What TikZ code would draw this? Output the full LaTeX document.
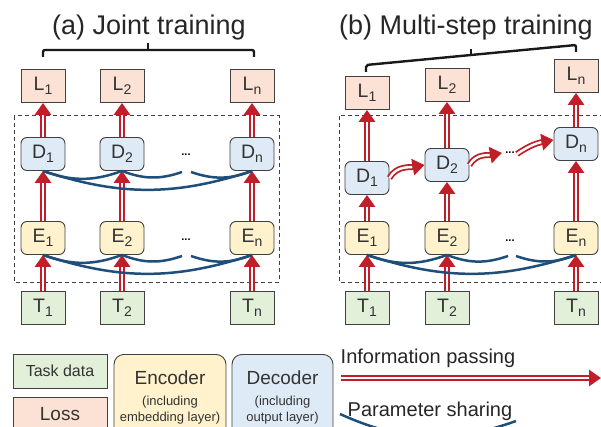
\documentclass[tikz,border=0pt]{standalone}
\usepackage{fontspec}
\setmainfont{Liberation Sans}
\usetikzlibrary{arrows.meta}
\definecolor{lossfill}{RGB}{251,226,213}
\definecolor{decfill}{RGB}{222,235,247}
\definecolor{encfill}{RGB}{255,242,204}
\definecolor{taskfill}{RGB}{226,240,217}
\definecolor{boxline}{RGB}{64,64,64}
\definecolor{infored}{RGB}{192,30,40}
\definecolor{shareblue}{RGB}{30,78,121}
\newcommand{\lbl}[2]{#1\raisebox{-3.5pt}{\fontsize{14}{14}\selectfont #2}}

\begin{document}
\begin{tikzpicture}[x=1pt, y=1pt,
    box/.style={draw=boxline, line width=0.9pt, minimum width=44pt, minimum height=33pt,
      inner sep=0pt, font=\fontsize{19.5}{19.5}\selectfont, text=black!80},
    loss/.style={box, fill=lossfill},
    task/.style={box, fill=taskfill},
    enc/.style={box, fill=encfill, rounded corners=6pt},
    dec/.style={box, fill=decfill, rounded corners=6pt},
    info/.style={draw=infored, line width=6pt, -{Triangle[width=16pt, length=12pt]},
      postaction={draw=white, line width=2.4pt, arrows=-, shorten >=12.5pt}},
    share/.style={draw=shareblue, line width=2.5pt},
    frame/.style={draw=black!75, dash pattern=on 4pt off 3pt, line width=1pt},
    brace/.style={draw=black!90, line width=2.4pt, rounded corners=2pt},
    dots/.style={font=\fontsize{11}{11}\selectfont\bfseries, inner sep=0pt},
    title/.style={font=\fontsize{27}{27}\selectfont, text=black!85, anchor=base}]
    \clip (0,0) rectangle (601,-427);

    % (a) joint training
    \node[title] (atitle) at (149,-35) {(a) Joint training};
    \draw[brace] (43,-57) -- (43,-50) -- (254,-50) -- (254,-57);
    \draw[brace] (148,-50) -- (148,-43);
    \draw[frame] (14,-116) rectangle (279,-282);
    \node[loss] (aL1) at (43,-86) {\lbl{L}{1}};
    \node[loss] (aL2) at (122,-86) {\lbl{L}{2}};
    \node[loss] (aLn) at (252,-86) {\lbl{L}{n}};
    \node[dec] (aD1) at (43,-154) {\lbl{D}{1}};
    \node[dec] (aD2) at (122,-154) {\lbl{D}{2}};
    \node[dec] (aDn) at (252,-154) {\lbl{D}{n}};
    \node[enc] (aE1) at (43,-238) {\lbl{E}{1}};
    \node[enc] (aE2) at (122,-238) {\lbl{E}{2}};
    \node[enc] (aEn) at (252,-238) {\lbl{E}{n}};
    \node[task] (aT1) at (43,-308) {\lbl{T}{1}};
    \node[task] (aT2) at (122,-308) {\lbl{T}{2}};
    \node[task] (aTn) at (252,-308) {\lbl{T}{n}};
    \node[dots] (aDdots) at (186,-155) {...};
    \node[dots] (aEdots) at (186,-240) {...};
    \foreach \i in {1,2,n} {
      \draw[info] (aT\i) -- (aE\i);
      \draw[info] (aE\i) -- (aD\i);
      \draw[info] (aD\i) -- (aL\i);
    }
    \coordinate (agapD1) at (182,-172);
    \coordinate (agapD2) at (191,-172);
    \coordinate (agapE1) at (182,-256);
    \coordinate (agapE2) at (191,-256);
    \draw[share] (aD1.south) to[bend right=20] (aD2.south);
    \draw[share] (aD2.south) to[bend right=20] (agapD1);
    \draw[share] (agapD2) to[bend right=20] (aDn.south);
    \draw[share] (aD1.south) to[bend right=18] (aDn.south);
    \draw[share] (aE1.south) to[bend right=20] (aE2.south);
    \draw[share] (aE2.south) to[bend right=20] (agapE1);
    \draw[share] (agapE2) to[bend right=20] (aEn.south);
    \draw[share] (aE1.south) to[bend right=18] (aEn.south);

    % (b) multi-step training
    \node[title] (btitle) at (466,-35) {(b) Multi-step training};
    \draw[brace] (366,-72) -- (366,-65) -- (576,-45) -- (576,-52);
    \draw[brace] (471,-55) -- (471,-49);
    \draw[frame] (339,-116) rectangle (610,-282);
    \node[loss] (bL1) at (367,-93) {\lbl{L}{1}};
    \node[loss] (bL2) at (447,-85) {\lbl{L}{2}};
    \node[loss] (bLn) at (576,-76) {\lbl{L}{n}};
    \node[dec] (bD1) at (367,-178) {\lbl{D}{1}};
    \node[dec] (bD2) at (447,-165) {\lbl{D}{2}};
    \node[dec] (bDn) at (576,-144) {\lbl{D}{n}};
    \node[enc] (bE1) at (367,-238) {\lbl{E}{1}};
    \node[enc] (bE2) at (447,-238) {\lbl{E}{2}};
    \node[enc] (bEn) at (576,-238) {\lbl{E}{n}};
    \node[task] (bT1) at (367,-308) {\lbl{T}{1}};
    \node[task] (bT2) at (447,-308) {\lbl{T}{2}};
    \node[task] (bTn) at (576,-308) {\lbl{T}{n}};
    \node[dots] (bDdots) at (510,-153) {...};
    \node[dots] (bEdots) at (510,-241) {...};
    \foreach \i in {1,2,n} {
      \draw[info] (bT\i) -- (bE\i);
      \draw[info] (bE\i) -- (bD\i);
      \draw[info] (bD\i) -- (bL\i);
    }
    \coordinate (bDarr1) at (502,-153);
    \coordinate (bDarr2) at (517,-154);
    \draw[info] (bD1.east) to[out=60, in=190] (bD2.west);
    \draw[info] (bD2.east) to[out=60, in=190] (bDarr1);
    \draw[info] (bDarr2) to[out=35, in=190] ([yshift=4pt]bDn.west);
    \coordinate (bgapE1) at (508,-256);
    \coordinate (bgapE2) at (516,-256);
    \draw[share] (bE1.south) to[bend right=20] (bE2.south);
    \draw[share] (bE2.south) to[bend right=20] (bgapE1);
    \draw[share] (bgapE2) to[bend right=20] (bEn.south);
    \draw[share] (bE1.south) to[bend right=18] (bEn.south);

    % legend
    \node[task, minimum width=94pt, minimum height=34pt, font=\fontsize{16}{16}\selectfont]
      (legtask) at (60,-371) {Task data};
    \node[loss, minimum width=94pt, minimum height=34pt, anchor=north]
      (legloss) at (60,-397) {};
    \node[font=\fontsize{19}{19}\selectfont, text=black!80] (lossname) at (60,-414) {Loss};
    \node[enc, minimum width=112pt, minimum height=86pt, rounded corners=10pt, anchor=north]
      (legenc) at (170,-354) {};
    \node[font=\fontsize{19}{19}\selectfont, text=black!80] (encname) at (170,-378) {Encoder};
    \node[font=\fontsize{13}{16}\selectfont, align=center, text=black!80] (encnote) at (170,-410)
      {(including\\embedding layer)};
    \node[dec, minimum width=101pt, minimum height=86pt, rounded corners=10pt, anchor=north]
      (legdec) at (282.5,-354) {};
    \node[font=\fontsize{19}{19}\selectfont, text=black!80] (decname) at (282.5,-378) {Decoder};
    \node[font=\fontsize{13}{16}\selectfont, align=center, text=black!80] (decnote) at (282.5,-410)
      {(including\\output layer)};
    \node[font=\fontsize{20}{20}\selectfont, text=black!85, anchor=base] (infoname) at (428,-363)
      {Information passing};
    \coordinate (infofrom) at (341,-378);
    \coordinate (infoto) at (601,-378);
    \draw[info] (infofrom) -- (infoto);
    \node[font=\fontsize{20}{20}\selectfont, text=black!85, anchor=base] (sharename) at (430,-416)
      {Parameter sharing};
    \coordinate (sharefrom) at (340,-414);
    \coordinate (shareto) at (516,-421);
    \draw[share] (sharefrom) to[bend right=22] (shareto);
  \end{tikzpicture}
\end{document}
